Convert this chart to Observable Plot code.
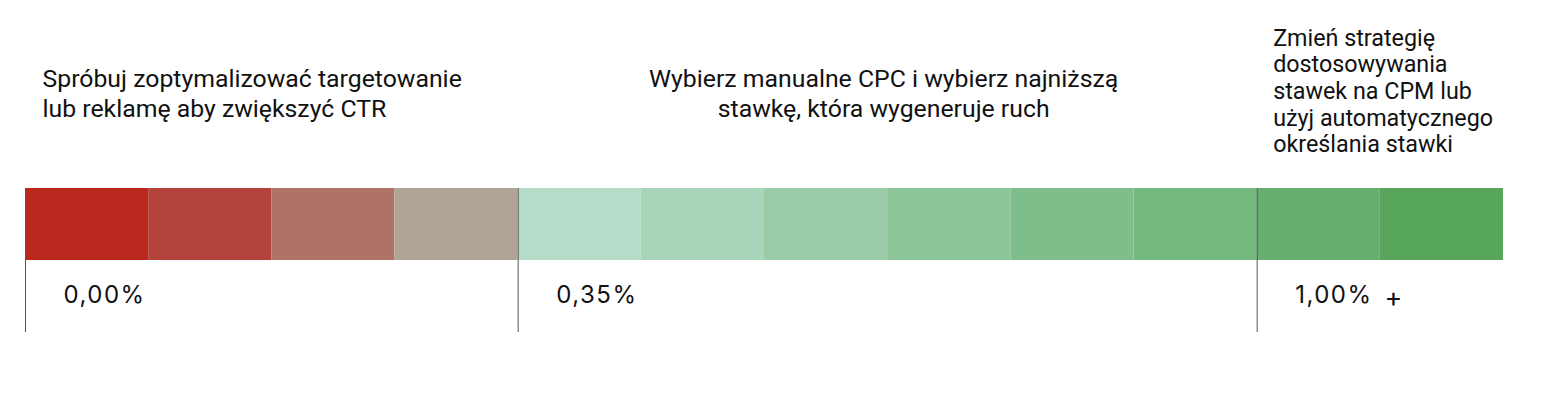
<!DOCTYPE html>
<html>
<head>
<meta charset="utf-8">
<script src="https://cdn.jsdelivr.net/npm/d3@7"></script>
<script src="https://cdn.jsdelivr.net/npm/@observablehq/plot@0.6"></script>
<style>
  html, body { margin: 0; padding: 0; background: #fff; }
  #chart svg { display: block; }
</style>
</head>
<body>
<div id="chart"></div>
<script>
// CTR buckets (12 equal steps), colours
const bucketColors = [
  "#BB281D", "#B4443B", "#B07266", "#B0A494",
  "#B5DCC8", "#A8D5B9", "#9BCCA8", "#8CC598", "#7FBE8B", "#73B87E",
  "#65AE6D", "#58A65B"
];
// zones, in bucket units
const zoneStarts = [0, 4, 10];
const zoneEnds = [4, 10, 12];
const zoneAdvice = [
  "Spróbuj zoptymalizować targetowanie\nlub reklamę aby zwiększyć CTR",
  "Wybierz manualne CPC i wybierz najniższą\nstawkę, która wygeneruje ruch",
  "Zmień strategię\ndostosowywania\nstawek na CPM lub\nużyj automatycznego\nokreślania stawki"
];
const zoneThresholds = ["0,00%", "0,35%", "1,00%"];
const openEndMark = "+";

const cells = bucketColors.map((color, i) => ({i, color}));
const zones = zoneStarts.map((start, k) => ({
  k, start, end: zoneEnds[k], advice: zoneAdvice[k], threshold: zoneThresholds[k]
}));
const lastZone = zones[zones.length - 1];

const chart = Plot.plot({
  width: 1552,
  height: 394,
  marginLeft: 25,
  marginRight: 49,
  marginTop: 188,
  marginBottom: 62,
  x: {domain: [0, bucketColors.length], axis: null},
  y: {domain: [0, 2], reverse: true, axis: null},
  color: {type: "identity"},
  marks: [
    Plot.rect(cells, {x1: d => d.i, x2: d => d.i + 1, y1: 0, y2: 1, fill: "color"}),
    Plot.ruleX(zones, {x: "start", y1: 0, y2: 2, stroke: "#555", strokeWidth: 1}),
    // advice texts
    Plot.text(zones, {
      filter: d => d.k === 0,
      x: "start", text: "advice", frameAnchor: "top", dx: 17, dy: -96,
      textAnchor: "start", lineAnchor: "middle", lineHeight: 1.2,
      fontFamily: "Roboto", fontSize: 24.8, fill: "#111"
    }),
    Plot.text(zones, {
      filter: d => d.k === 1,
      x: d => (d.start + d.end) / 2, text: "advice", frameAnchor: "top", dx: -4, dy: -96,
      textAnchor: "middle", lineAnchor: "middle", lineHeight: 1.2,
      fontFamily: "Roboto", fontSize: 24.8, fill: "#111"
    }),
    Plot.text(zones, {
      filter: d => d.k === 2,
      x: "start", text: "advice", frameAnchor: "top", dx: 16, dy: -98,
      textAnchor: "start", lineAnchor: "middle", lineHeight: 1.14,
      fontFamily: "Roboto", fontSize: 23.3, fill: "#111"
    }),
    // threshold labels
    Plot.text(zones, {
      x: "start", text: "threshold", frameAnchor: "top", dx: 38, dy: 107,
      textAnchor: "start", lineAnchor: "middle",
      fontFamily: "Inter", fontSize: 24, fill: "#111"
    }),
    Plot.text([lastZone], {
      x: "start", text: () => openEndMark, frameAnchor: "top", dx: 137, dy: 110,
      textAnchor: "middle", lineAnchor: "middle",
      fontFamily: "Inter", fontSize: 27, fill: "#111"
    })
  ]
});
d3.select(chart).selectAll('g[font-family="Inter"] text').attr("letter-spacing", "1.5px");
document.getElementById("chart").append(chart);
</script>
</body>
</html>
